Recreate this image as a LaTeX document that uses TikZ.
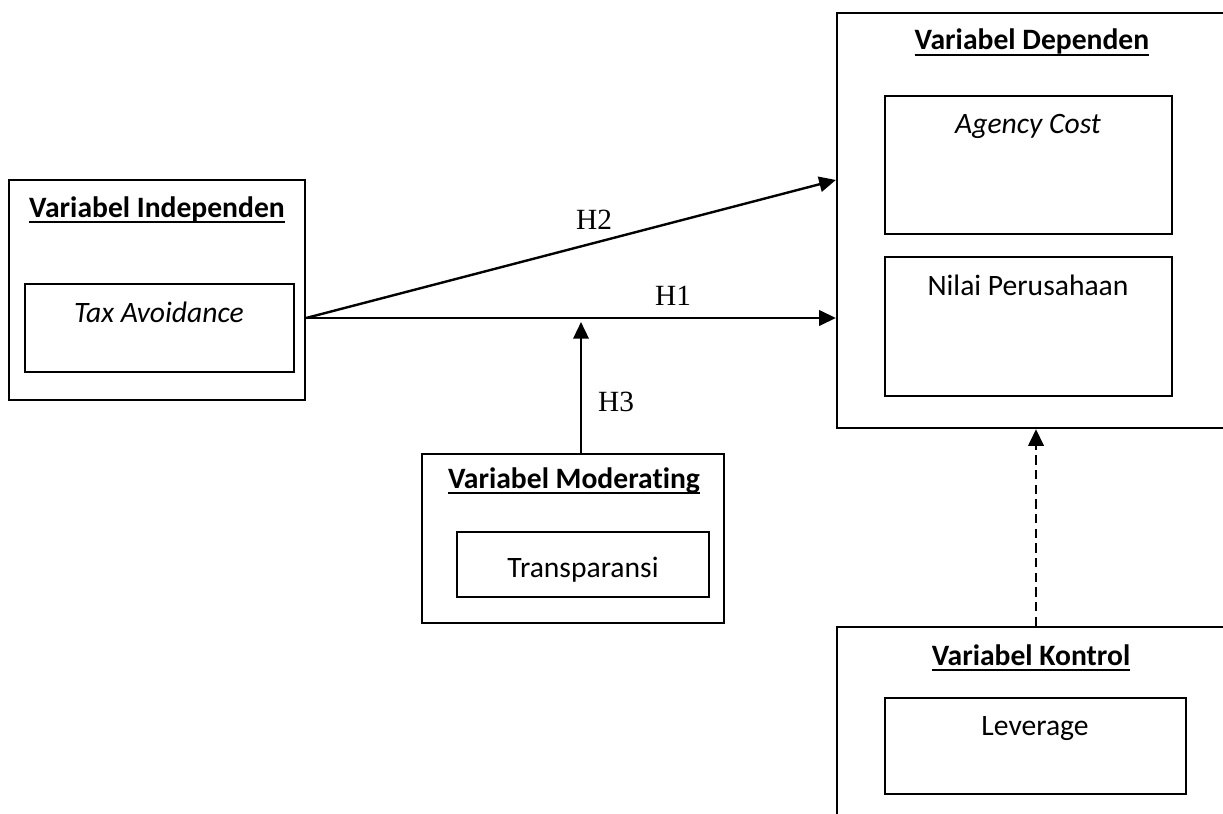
\documentclass[tikz,border=0pt]{standalone}
\usepackage{fontspec}
\setmainfont{Carlito}[Ligatures={NoCommon}]
\newfontfamily\timesfont{Liberation Serif}
\usetikzlibrary{fit,arrows.meta}
\newcommand\ulbox[1]{\leavevmode\setbox0\hbox{#1}\rlap{\rule[-4.6pt]{\wd0}{1.5pt}}\box0}
\begin{document}
\begin{tikzpicture}[x=0.75pt,y=-0.75pt,
  outerbox/.style={draw,line width=1.7pt,inner sep=0pt},
  innerbox/.style={draw,line width=1.7pt,inner sep=0pt},
  titletext/.style={anchor=base,inner sep=0pt,font=\fontsize{22.2}{26}\selectfont\bfseries},
  bodytext/.style={anchor=base,inner sep=0pt,font=\fontsize{22.2}{26}\selectfont},
  hlabel/.style={anchor=base,inner sep=0pt,font=\fontsize{22}{26}\timesfont},
  conn/.style={line width=1.8pt,-{Triangle[length=12.5pt,width=11.5pt]}},
  dconn/.style={conn,dash pattern=on 7pt off 4pt}]
\useasboundingbox (0,0) rectangle (1223,813);
\clip (0,0) rectangle (1223,813);
% boxes
\node[outerbox,fit={(9,180) (305,400)}] (indep) {};
\node[innerbox,fit={(25,284) (294,372)}] (tax) {};
\node[outerbox,fit={(837,13) (1227,428)}] (dep) {};
\node[innerbox,fit={(885,96) (1172,234)}] (agency) {};
\node[innerbox,fit={(885,257) (1172,396)}] (nilai) {};
\node[outerbox,fit={(422,454) (724,623)}] (mod) {};
\node[innerbox,fit={(457,532) (709,597)}] (transp) {};
\node[outerbox,fit={(837,627) (1227,840)}] (kontrol) {};
\node[innerbox,fit={(885,698) (1186,794)}] (lev) {};
% texts
\node[titletext] (tindep) at (157,217) {\ulbox{Variabel Independen}};
\node[bodytext] (ttax) at (159,322) {\itshape Tax Avoidance};
\node[titletext] (tdep) at (1032,50) {\ulbox{Variabel Dependen}};
\node[bodytext] (tagency) at (1028,133) {\itshape Agency Cost};
\node[bodytext] (tnilai) at (1028,295) {Nilai Perusahaan};
\node[titletext] (tmod) at (574,488) {\ulbox{Variabel Moderating}};
\node[bodytext] (ttransp) at (583,577) {Transparansi};
\node[titletext] (tkontrol) at (1031,665) {\ulbox{Variabel Kontrol}};
\node[bodytext] (tlev) at (1035,735) {Leverage};
% connectors
\coordinate (src) at (indep.east |- 0,318);
\coordinate (h1end) at (dep.west |- 0,318);
\coordinate (h2end) at (dep.west |- 0,180);
\coordinate (h3end) at (581,322);
\coordinate (h3start) at (mod.north -| 581,0);
\coordinate (kstart) at (kontrol.north -| 1036,0);
\coordinate (kend) at (dep.south -| 1036,0);
\draw[conn] (src) -- (h1end);
\draw[conn] (src) -- (h2end);
\draw[conn] (h3start) -- (h3end);
\draw[dconn] (kstart) -- (kend);
\node[hlabel] (lh2) at (594,229) {H2};
\node[hlabel] (lh1) at (673,305) {H1};
\node[hlabel] (lh3) at (616,411) {H3};
\end{tikzpicture}
\end{document}
